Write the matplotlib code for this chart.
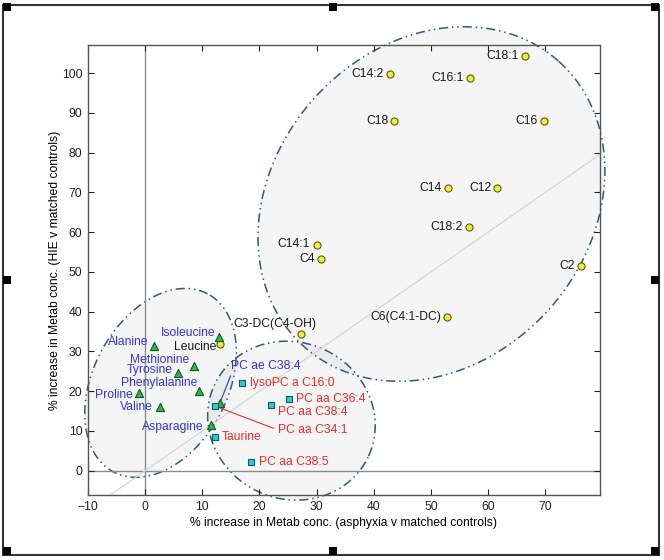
import numpy as np
import matplotlib
matplotlib.use("Agg")
import matplotlib.pyplot as plt
from matplotlib.patches import Polygon, Rectangle

plt.rcParams["font.family"] = ["Liberation Sans", "DejaVu Sans"]

# Acylcarnitines etc. (yellow circles, black labels)
acyl_names = ["C18:1", "C14:2", "C16:1", "C18", "C16", "C14", "C12", "C18:2",
              "C14:1", "C4", "C2", "C6(C4:1-DC)", "C3-DC(C4-OH)", "Leucine"]
acyl_x = [66.5, 42.8, 56.8, 43.6, 69.8, 53.0, 61.6, 56.6, 30.0, 30.8, 76.2, 52.9, 27.2, 13.1]
acyl_y = [104.4, 99.9, 98.7, 88.1, 88.1, 71.1, 71.1, 61.4, 56.9, 53.3, 51.6, 38.6, 34.5, 32.0]

# Amino acids (green triangles, blue labels)
amino_names = ["Isoleucine", "Alanine", "Methionine", "Tyrosine", "Phenylalanine",
               "Proline", "Valine", "Asparagine", "PC ae C38:4"]
amino_x = [13.0, 1.5, 8.5, 5.7, 9.4, -1.1, 2.6, 11.5, 13.1]
amino_y = [33.7, 31.5, 26.4, 24.5, 20.1, 19.6, 16.0, 11.4, 17.1]

# Phosphatidylcholines / taurine (cyan squares, red labels)
pc_names = ["lysoPC a C16:0", "PC aa C36:4", "PC aa C38:4", "PC aa C34:1",
            "Taurine", "PC aa C38:5"]
pc_x = [17.0, 25.2, 22.0, 12.2, 12.2, 18.5]
pc_y = [22.0, 18.1, 16.5, 16.3, 8.6, 2.3]

xticks = list(range(-10, 80, 10))
yticks = list(range(0, 110, 10))

FS = 8.7

# label offsets in pixels from the marker: (dx, dy, ha, leader line)
default_left = (-6, 0, "right", False)
default_right = (7, 0, "left", False)
label_layout = {
    "C14:1": (-7, 1, "right", False),
    "C3-DC(C4-OH)": (-26, 10, "center", False),
    "Leucine": (-4, -3, "right", False),
    "Isoleucine": (-4, 4, "right", False),
    "Alanine": (-5, 4, "right", False),
    "Methionine": (-4, 6, "right", False),
    "Tyrosine": (-5, 3, "right", False),
    "Phenylalanine": (-1, 8, "right", False),
    "Proline": (-6, -2, "right", False),
    "Valine": (-7, 0, "right", False),
    "Asparagine": (-7, -2, "right", False),
    "PC ae C38:4": (11, 37, "left", True),
    "lysoPC a C16:0": (8, 0, "left", False),
    "PC aa C38:4": (7, -7, "left", False),
    "PC aa C34:1": (63, -24, "left", True),
    "PC aa C38:5": (8, 0, "left", False),
}

# ellipses: centre and two conjugate semi-axes, in data units
ellipses = [
    ((50.1, 67.1), (22.2, 36.0), (-20.7, 26.3)),
    ((2.7, 22.1), (8.23, 22.4), (-10.4, 7.9)),
    ((25.6, 12.6), (13.5, -8.9), (5.72, 17.9)),
]

fig = plt.figure(figsize=(6.64, 5.6), dpi=100)
ax = fig.add_axes([88 / 664, 65 / 560, 512 / 664, 450 / 560])

ell_dash = (0, (6, 2.5, 1, 2.5, 1, 2.5))
t = np.linspace(0, 2 * np.pi, 400)
for c, u, v in ellipses:
    px = c[0] + u[0] * np.cos(t) + v[0] * np.sin(t)
    py = c[1] + u[1] * np.cos(t) + v[1] * np.sin(t)
    ax.add_patch(Polygon(np.column_stack([px, py]), closed=True,
                         facecolor=(0.5, 0.5, 0.5, 0.08), edgecolor="#3b5676",
                         linewidth=1.1, linestyle=ell_dash, clip_on=False, zorder=1))

ax.axhline(0, color="#8c8c8c", linewidth=1.0, zorder=1.5)
ax.axvline(0, color="#8c8c8c", linewidth=1.0, zorder=1.5)
ax.axline((0, 0), slope=1, color="#d4d4d4", linewidth=0.9, zorder=1.6)

ax.scatter(acyl_x, acyl_y, s=26, marker="o", facecolor="#f2ee2a",
           edgecolor="#5a5a20", linewidth=0.8, zorder=4)
ax.scatter(amino_x, amino_y, s=34, marker="^", facecolor="#2fb548",
           edgecolor="#145a22", linewidth=0.8, zorder=4)
ax.scatter(pc_x, pc_y, s=22, marker="s", facecolor="#2ccdd2",
           edgecolor="#0d5d66", linewidth=0.8, zorder=4)


def label_points(names, xs, ys, color, default):
    for name, x, y in zip(names, xs, ys):
        dx, dy, ha, leader = label_layout.get(name, default)
        if leader:
            ax.annotate(name, (x, y), xytext=(dx, dy), textcoords="offset pixels",
                        ha=ha, va="center", fontsize=FS, color=color, zorder=3,
                        arrowprops=dict(arrowstyle="-", color=color, lw=0.8,
                                        relpos=(0.03, 0.2) if dy > 0 else (0, 0.5),
                                        shrinkA=1, shrinkB=2))
        else:
            ax.annotate(name, (x, y), xytext=(dx, dy), textcoords="offset pixels",
                        ha=ha, va="center", fontsize=FS, color=color, zorder=3)


label_points(acyl_names, acyl_x, acyl_y, "#1a1a1a", default_left)
label_points(amino_names, amino_x, amino_y, "#3434dc", default_left)
label_points(pc_names, pc_x, pc_y, "#ee2a2a", default_right)

ax.set_xlim(-10, 79.6)
ax.set_ylim(-6.1, 107.1)
ax.set_xticks(xticks)
ax.set_yticks(yticks)
ax.tick_params(direction="in", length=4, width=0.8, top=True, right=True,
               labelsize=FS, colors="#222222", pad=4)
for sp in ax.spines.values():
    sp.set_color("#555555")
    sp.set_linewidth(1.0)
ax.set_xlabel("% increase in Metab conc. (asphyxia v matched controls)",
              fontsize=FS, labelpad=3)
ax.set_ylabel("% increase in Metab conc. (HIE v matched controls)",
              fontsize=FS, labelpad=1)

# outer frame with selection handles
W, H = 664, 560
fig.add_artist(Rectangle((3.5 / W, 1 - 554.5 / H), 655 / W, 550 / H,
                         transform=fig.transFigure, fill=False,
                         edgecolor="#333333", linewidth=1.5))
for hx, hy in [(3, 3), (329, 3), (651, 3), (3, 276), (651, 276),
               (3, 547), (329, 547), (651, 547)]:
    fig.add_artist(Rectangle((hx / W, 1 - (hy + 8) / H), 8 / W, 8 / H,
                             transform=fig.transFigure, facecolor="black",
                             edgecolor="none"))

fig.savefig("out.png", dpi=100)
